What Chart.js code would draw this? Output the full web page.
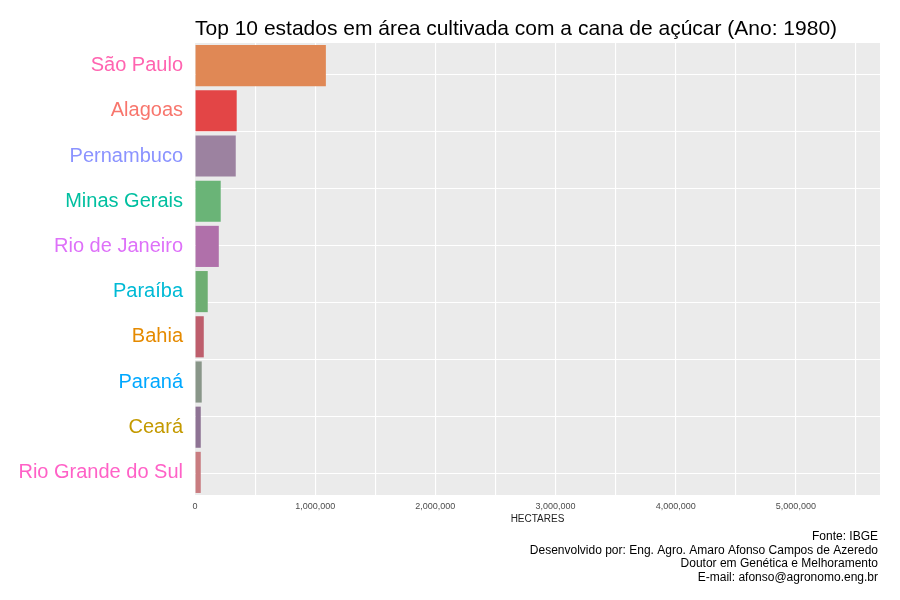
<!DOCTYPE html>
<html>
<head>
<meta charset="utf-8">
<script src="https://cdn.jsdelivr.net/npm/chart.js@4/dist/chart.umd.min.js"></script>
<style>
  html, body { margin: 0; padding: 0; background: #fff; }
  #wrap { width: 900px; height: 600px; }
</style>
</head>
<body>
<div id="wrap"><canvas id="canvas" width="900" height="600"></canvas></div>
<script>
// dados (1980)
const states = ["São Paulo", "Alagoas", "Pernambuco", "Minas Gerais", "Rio de Janeiro",
  "Paraíba", "Bahia", "Paraná", "Ceará", "Rio Grande do Sul"];
const hectares = [1089000, 347000, 339000, 214000, 198000, 106000, 73000, 56000, 48000, 48000];
const barColors = ["#e08855", "#e34546", "#9c82a0", "#6ab477", "#b070aa",
  "#6eae72", "#be5e6c", "#899689", "#8e7394", "#c97c80"];
const labelColors = ["#ff64b0", "#f8766d", "#8b93ff", "#00bfa0", "#de71f9",
  "#00bad5", "#e58a00", "#00a8ff", "#c49a00", "#ff61c7"];
const xMax = 5700000;
const xTicks = [0, 500000, 1000000, 1500000, 2000000, 2500000, 3000000,
  3500000, 4000000, 4500000, 5000000, 5500000];
const hGridTicks = [0, 1, 2, 3, 4, 5, 6, 7];

const titleText = "Top 10 estados em área cultivada com a cana de açúcar (Ano: 1980)";
const captionLines = [
  "Fonte: IBGE",
  "Desenvolvido por: Eng. Agro. Amaro Afonso Campos de Azeredo",
  "Doutor em Genética e Melhoramento",
  "E-mail: afonso@agronomo.eng.br"
];

const FONT = "'Liberation Sans', Arial, sans-serif";

// fundo cinza do painel + titulo + legenda
const panelPlugin = {
  id: "panel",
  beforeDraw(chart) {
    const { ctx, chartArea: a } = chart;
    ctx.save();
    ctx.fillStyle = "#ebebeb";
    ctx.fillRect(a.left, a.top, a.right - a.left, a.bottom - a.top);
    ctx.restore();
  },
  afterDraw(chart) {
    const { ctx, chartArea: a } = chart;
    ctx.save();
    ctx.fillStyle = "#000";
    ctx.font = "21px " + FONT;
    ctx.textAlign = "left";
    ctx.textBaseline = "alphabetic";
    ctx.fillText(titleText, a.left, 35);
    ctx.font = "12px " + FONT;
    ctx.textAlign = "right";
    captionLines.forEach((line, i) => {
      ctx.fillText(line, a.right - 2, 540 + i * 13.7);
    });
    ctx.restore();
  }
};

new Chart(document.getElementById("canvas").getContext("2d"), {
  type: "bar",
  data: {
    labels: states,
    datasets: [{
      data: hectares,
      backgroundColor: barColors,
      borderWidth: 0,
      barPercentage: 0.91,
      categoryPercentage: 1.0
    }]
  },
  options: {
    indexAxis: "y",
    responsive: false,
    animation: false,
    layout: { padding: { top: 43, right: 20, bottom: 75, left: 0 } },
    plugins: {
      legend: { display: false },
      tooltip: { enabled: false }
    },
    scales: {
      x: {
        type: "linear",
        min: 0,
        max: xMax,
        grid: { color: "#ffffff", lineWidth: 1.1, drawTicks: false },
        border: { display: false },
        ticks: {
          autoSkip: false,
          maxRotation: 0,
          padding: 6,
          color: "#4d4d4d",
          font: { family: FONT, size: 9 },
          callback: (v) => (v % 1000000 === 0 ? v.toLocaleString("en-US") : "")
        },
        afterBuildTicks: (s) => { s.ticks = xTicks.map((v) => ({ value: v })); },
        title: {
          display: true,
          text: "HECTARES",
          color: "#222",
          font: { family: FONT, size: 10 },
          padding: { top: 0, bottom: 0 }
        },
        afterFit: (s) => { s.height = 30; }
      },
      y: {
        type: "category",
        grid: { display: false, drawTicks: false },
        border: { display: false },
        ticks: {
          padding: 12,
          color: (c) => labelColors[c.index],
          font: { family: FONT, size: 20 }
        },
        afterFit: (s) => { s.width = 195; }
      },
      yGrid: {
        type: "linear",
        position: "right",
        min: -0.368,
        max: 7.561,
        offset: false,
        display: true,
        grid: { color: "#ffffff", lineWidth: 1.1, drawTicks: false, offset: false },
        border: { display: false },
        ticks: { display: false },
        afterBuildTicks: (s) => { s.ticks = hGridTicks.map((v) => ({ value: v })); },
        afterFit: (s) => { s.width = 0; }
      }
    }
  },
  plugins: [panelPlugin]
});
</script>
</body>
</html>
